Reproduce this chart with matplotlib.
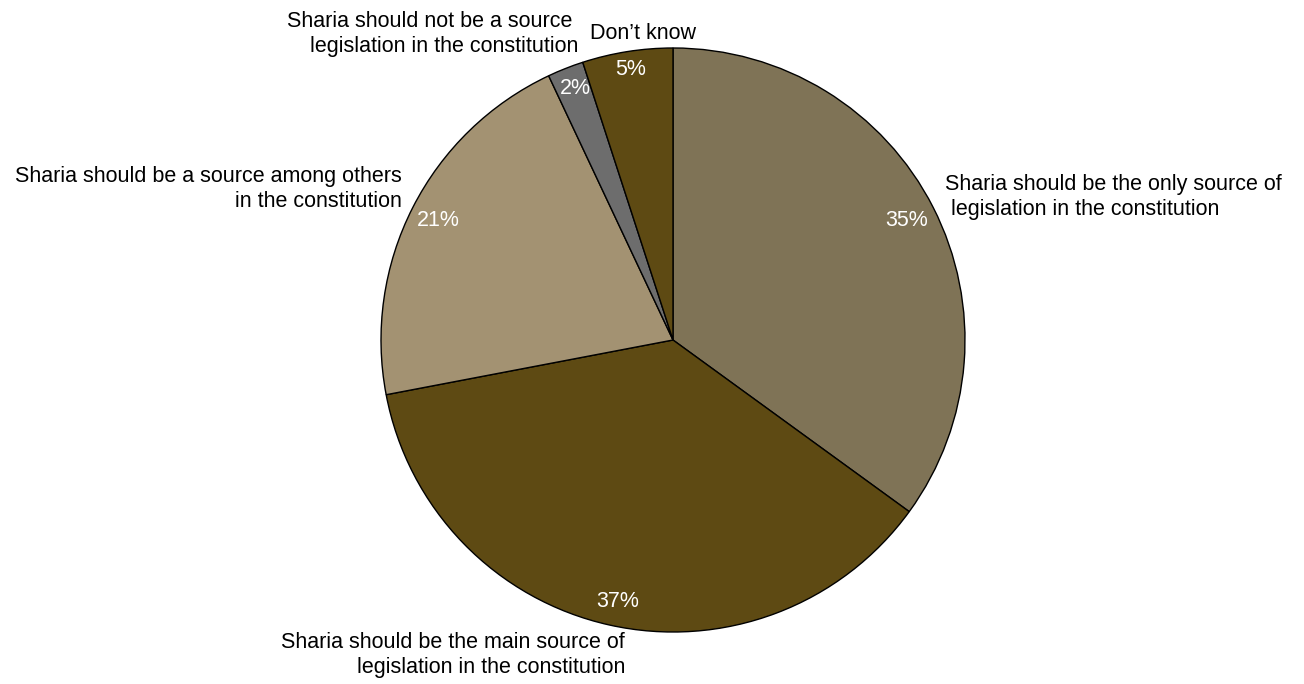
import matplotlib
matplotlib.use("Agg")
import matplotlib.pyplot as plt

plt.rcParams['font.family'] = ['Liberation Sans', 'DejaVu Sans']

categories = [
    "Sharia should be the only source of\n legislation in the constitution",
    "Sharia should be the main source of\nlegislation in the constitution",
    "Sharia should be a source among others\nin the constitution",
    "Sharia should not be a source \nlegislation in the constitution",
    "Don\u2019t know",
]
values = [35, 37, 21, 2, 5]
pct_labels = ["35%", "37%", "21%", "2%", "5%"]
colors = ["#7F7356", "#5E4A13", "#A39272", "#6D6D6D", "#5E4A13"]

# label placement (data units, pie radius = 1)
pct_pos = [(0.80, 0.41), (-0.19, -0.894), (-0.805, 0.408), (-0.334, 0.863), (-0.144, 0.925)]
cat_pos = [(0.932, 0.49), (-0.164, -1.079), (-0.928, 0.517), (-0.325, 1.048), (-0.103, 1.048)]
cat_ha = ["left", "right", "right", "right", "center"]

W, H = 1304, 684
fig = plt.figure(figsize=(W / 100, H / 100), dpi=100)
cx, cy, r = 673, 340, 292
ax = fig.add_axes([(cx - r) / W, (H - cy - r) / H, 2 * r / W, 2 * r / H])

wedges, _ = ax.pie(values, colors=colors, startangle=90, counterclock=False,
                   radius=1, wedgeprops=dict(edgecolor="black", linewidth=1.0))
ax.set_xlim(-1, 1)
ax.set_ylim(-1, 1)
ax.set_aspect("equal")
ax.axis("off")

fs = 15.5
for txt, (x, y) in zip(pct_labels, pct_pos):
    ax.text(x, y, txt, ha="center", va="center", color="white", fontsize=fs)

for txt, (x, y), ha in zip(categories, cat_pos, cat_ha):
    ax.text(x, y, txt, ha=ha, va="center", color="black", fontsize=fs,
            linespacing=1.2, clip_on=False)

fig.savefig("out.png", dpi=100, facecolor="white")
